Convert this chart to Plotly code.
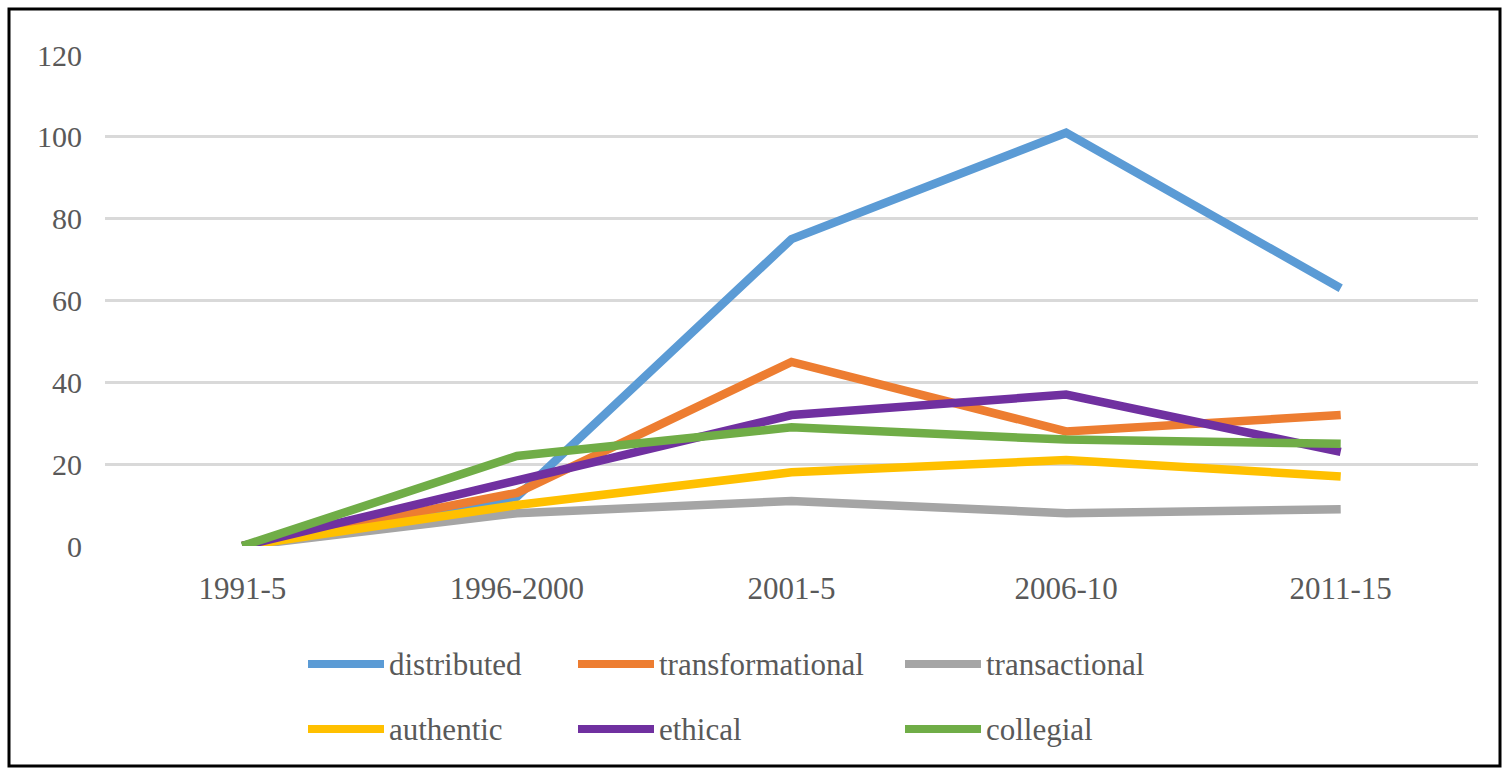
import plotly.graph_objects as go

periods = ["1991-5", "1996-2000", "2001-5", "2006-10", "2011-15"]
series_names = ["distributed", "transformational", "transactional", "authentic", "ethical", "collegial"]
distributed = [0, 12, 75, 101, 63]
transformational = [0, 13, 45, 28, 32]
transactional = [0, 8, 11, 8, 9]
authentic = [0, 10, 18, 21, 17]
ethical = [0, 16, 32, 37, 23]
collegial = [0, 22, 29, 26, 25]
y_ticks = [0, 20, 40, 60, 80, 100, 120]

values = [distributed, transformational, transactional, authentic, ethical, collegial]
colors = ["#5B9BD5", "#ED7D31", "#A5A5A5", "#FFC000", "#7030A0", "#70AD47"]

W, H = 1508, 774
L, R, T, B = 105, 30, 55, 228
pw, ph = W - L - R, H - T - B

fig = go.Figure()
for name, vals, col in zip(series_names, values, colors):
    fig.add_trace(go.Scatter(x=periods, y=vals, mode="lines", name=name,
                             line=dict(color=col, width=8.5), showlegend=False))

font_family = "Liberation Serif"
txt_col = "#595959"

fig.update_layout(
    width=W, height=H,
    margin=dict(l=L, r=R, t=T, b=B),
    plot_bgcolor="white", paper_bgcolor="white",
    xaxis=dict(type="category", range=[-0.5, 4.5], showgrid=False, showline=False,
               zeroline=False, ticks="", ticklabelstandoff=21,
               tickfont=dict(family=font_family, size=31, color=txt_col)),
    yaxis=dict(range=[0, 120], tickvals=y_ticks, showgrid=True, gridcolor="#D9D9D9",
               gridwidth=2.5, zeroline=False, showline=False, ticks="",
               ticklabelstandoff=22,
               tickfont=dict(family=font_family, size=30, color=txt_col)),
)

def px_x(x):
    return (x - L) / pw

def px_y(y):
    return (H - B - y) / ph

# outer border
fig.add_shape(type="rect", xref="paper", yref="paper",
              x0=px_x(9), x1=px_x(1500), y0=px_y(9), y1=px_y(766),
              line=dict(color="black", width=3), fillcolor="rgba(0,0,0,0)", layer="below")

# manual legend
leg_x = [308, 578, 905]
leg_y = [664, 729]
for i, (name, col) in enumerate(zip(series_names, colors)):
    r, c = divmod(i, 3)
    x0 = leg_x[c]
    y = leg_y[r]
    fig.add_shape(type="line", xref="paper", yref="paper",
                  x0=px_x(x0), x1=px_x(x0 + 76), y0=px_y(y), y1=px_y(y),
                  line=dict(color=col, width=8))
    fig.add_annotation(xref="paper", yref="paper", x=px_x(x0 + 79), y=px_y(y),
                       text=name, showarrow=False, xanchor="left", yanchor="middle",
                       font=dict(family=font_family, size=31, color=txt_col))

fig.write_html("out.html")
